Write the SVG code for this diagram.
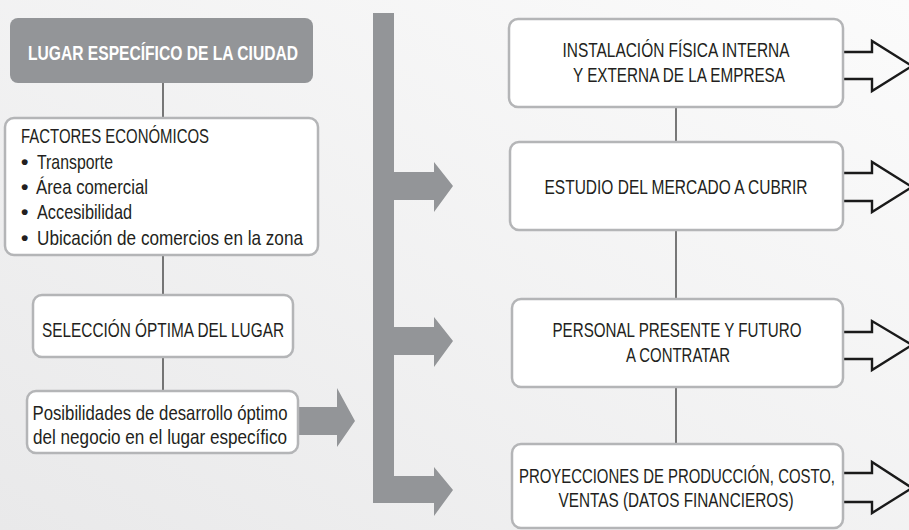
<svg xmlns="http://www.w3.org/2000/svg" width="909" height="530" viewBox="0 0 909 530">
<defs>
<linearGradient id="bg" x1="0" y1="1" x2="1" y2="0">
<stop offset="0" stop-color="#e9e9ea"/>
<stop offset="1" stop-color="#fbfbfb"/>
</linearGradient>
<style>
.box{fill:#fff;stroke:#b4b5b7;stroke-width:2.5}
.hdr{fill:#939598}
.t{font-family:"Liberation Sans Narrow","Liberation Sans",Arial,sans-serif;font-size:21px;fill:#231f20}
.c{text-anchor:middle}
.w{fill:#fff;font-weight:bold}
.b{font-weight:bold}
.ln{stroke:#333;stroke-width:1.3;fill:none}
.ga{fill:#939598}
.oa{fill:none;stroke:#1a1a1a;stroke-width:2.4;stroke-linejoin:miter}
</style>
</defs>
<rect width="909" height="530" fill="url(#bg)"/>

<g id="connectors">
<line class="ln" x1="163" y1="83" x2="163" y2="118"/>
<line class="ln" x1="163" y1="255" x2="163" y2="295"/>
<line class="ln" x1="163" y1="357" x2="163" y2="391"/>
<line class="ln" x1="676" y1="107" x2="676" y2="142"/>
<line class="ln" x1="676" y1="230" x2="676" y2="299"/>
<line class="ln" x1="676" y1="387" x2="676" y2="444"/>
<path class="ga" d="M298,407 H337 V388 L355,421 L337,447 V435 H298 Z"/>
<path class="ga" d="M373,13 H394 V172 H434 V162 L453,186 L434,212 V200 H394 V327 H434 V317 L453,341 L434,367 V355 H394 V476 H434 V467 L453,490 L434,516 V503 H373 Z"/>
<path class="oa" d="M843,52 H872 V41 L912,66 L872,91 V79 H843"/>
<path class="oa" d="M843,173 H872 V162 L912,187 L872,212 V201 H843"/>
<path class="oa" d="M843,332 H872 V321 L912,345 L872,370 V359 H843"/>
<path class="oa" d="M843,473 H872 V462 L912,488 L872,513 V502 H843"/>
</g>

<g id="lugar">
<rect class="hdr" x="10" y="18" width="303" height="65" rx="8"/>
<text class="t c w" x="163" y="60" font-size="22" textLength="270" lengthAdjust="spacingAndGlyphs">LUGAR ESPECÍFICO DE LA CIUDAD</text>
</g>

<g id="factores">
<rect class="box" x="5" y="118" width="313" height="137" rx="9"/>
<text class="t" x="21" y="143" textLength="188" lengthAdjust="spacingAndGlyphs">FACTORES ECONÓMICOS</text>
<text class="t" x="21" y="169"><tspan class="b">•</tspan><tspan x="37" textLength="76" lengthAdjust="spacingAndGlyphs">Transporte</tspan></text>
<text class="t" x="21" y="194"><tspan class="b">•</tspan><tspan x="36" textLength="112" lengthAdjust="spacingAndGlyphs">Área comercial</tspan></text>
<text class="t" x="21" y="219"><tspan class="b">•</tspan><tspan x="37" textLength="95" lengthAdjust="spacingAndGlyphs">Accesibilidad</tspan></text>
<text class="t" x="21" y="245"><tspan class="b">•</tspan><tspan x="37" textLength="266" lengthAdjust="spacingAndGlyphs">Ubicación de comercios en la zona</tspan></text>
</g>

<g id="seleccion">
<rect class="box" x="33" y="295" width="260" height="62" rx="9"/>
<text class="t c" x="163" y="337" textLength="242" lengthAdjust="spacingAndGlyphs">SELECCIÓN ÓPTIMA DEL LUGAR</text>
</g>

<g id="posibilidades">
<rect class="box" x="27" y="391" width="271" height="62" rx="9"/>
<text class="t c" x="160" y="420" textLength="255" lengthAdjust="spacingAndGlyphs">Posibilidades de desarrollo óptimo</text>
<text class="t c" x="160" y="444" textLength="254" lengthAdjust="spacingAndGlyphs">del negocio en el lugar específico</text>
</g>

<g id="instalacion">
<rect class="box" x="509" y="19" width="334" height="88" rx="9"/>
<text class="t c" x="676" y="57" textLength="227" lengthAdjust="spacingAndGlyphs">INSTALACIÓN FÍSICA INTERNA</text>
<text class="t c" x="679" y="82" textLength="212" lengthAdjust="spacingAndGlyphs">Y EXTERNA DE LA EMPRESA</text>
</g>

<g id="estudio">
<rect class="box" x="510" y="142" width="333" height="88" rx="9"/>
<text class="t c" x="676" y="194" textLength="263" lengthAdjust="spacingAndGlyphs">ESTUDIO DEL MERCADO A CUBRIR</text>
</g>

<g id="personal">
<rect class="box" x="512" y="299" width="331" height="88" rx="9"/>
<text class="t c" x="677" y="337" textLength="249" lengthAdjust="spacingAndGlyphs">PERSONAL PRESENTE Y FUTURO</text>
<text class="t c" x="678" y="362" textLength="104" lengthAdjust="spacingAndGlyphs">A CONTRATAR</text>
</g>

<g id="proyecciones">
<rect class="box" x="512" y="444" width="331" height="84" rx="9"/>
<text class="t c" x="677" y="483" textLength="316" lengthAdjust="spacingAndGlyphs">PROYECCIONES DE PRODUCCIÓN, COSTO,</text>
<text class="t c" x="676" y="507" textLength="235" lengthAdjust="spacingAndGlyphs">VENTAS (DATOS FINANCIEROS)</text>
</g>
</svg>
